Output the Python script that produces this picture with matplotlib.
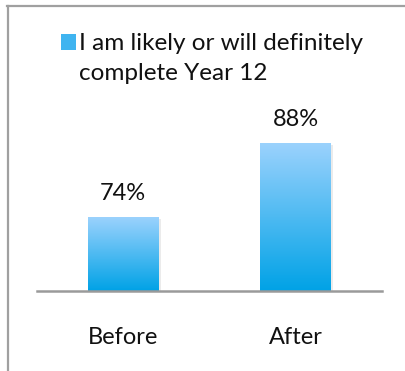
import numpy as np
import matplotlib.pyplot as plt
from matplotlib.colors import LinearSegmentedColormap
from matplotlib.lines import Line2D
from matplotlib.patches import Rectangle

plt.rcParams['font.family'] = ['Lato', 'DejaVu Sans']

categories = ['Before', 'After']
values = [74, 88]
series_name = 'I am likely or will definitely\ncomplete Year 12'

grad = LinearSegmentedColormap.from_list('blue_grad', ['#00a2e6', '#9bd2fd'])

fig = plt.figure(figsize=(4.06, 3.71), dpi=100)
ax = fig.add_axes([0.0911, 0.2156, 0.8498, 0.5687])

x = np.arange(len(categories))
bars = ax.bar(x, values, width=0.41, color='none', zorder=2)

# gradient fill clipped to each bar, with a soft shadow on the right
for b, v in zip(bars, values):
    x0, w = b.get_x(), b.get_width()
    shadow = Rectangle((x0 + 0.012, 60), w, v - 60 - 0.3, facecolor='#000000',
                       alpha=0.08, edgecolor='none', zorder=1)
    ax.add_patch(shadow)
    im = ax.imshow(np.linspace(0, 1, 256).reshape(-1, 1), cmap=grad, aspect='auto',
                   extent=[x0, x0 + w, 60, v], origin='lower', zorder=2)
    im.set_clip_path(b)
    ax.text(x0 + w / 2, v + 3.3, f'{v}%', ha='center', va='baseline',
            fontsize=17, color='#111111')

ax.set_xlim(-0.5, 1.5)
ax.set_ylim(60, 100)

for s in ['top', 'right', 'left']:
    ax.spines[s].set_visible(False)
ax.spines['bottom'].set_color('#9a9a9a')
ax.spines['bottom'].set_linewidth(1.8)
ax.set_yticks([])
ax.set_xticks(x)
ax.set_xticklabels(categories, fontsize=17, color='#111111')
ax.tick_params(axis='x', length=0, pad=26)

# legend key and text
fig.patches.append(Rectangle((61 / 406, 1 - 50 / 371), 15 / 406, 16 / 371,
                             transform=fig.transFigure, facecolor='#3fb4f0',
                             edgecolor='none'))
fig.text(79 / 406, 1 - 33 / 371, series_name, ha='left', va='top',
         fontsize=17.5, color='#111111', linespacing=1.5)

# outer frame (left and top edges)
fig.add_artist(Line2D([7.5 / 406, 7.5 / 406], [0, 1 - 6 / 371],
                      transform=fig.transFigure, color='#a0a0a0', lw=1.6))
fig.add_artist(Line2D([7 / 406, 1], [1 - 6 / 371, 1 - 6 / 371],
                      transform=fig.transFigure, color='#a0a0a0', lw=1.6))

fig.savefig('out.png', dpi=100)
